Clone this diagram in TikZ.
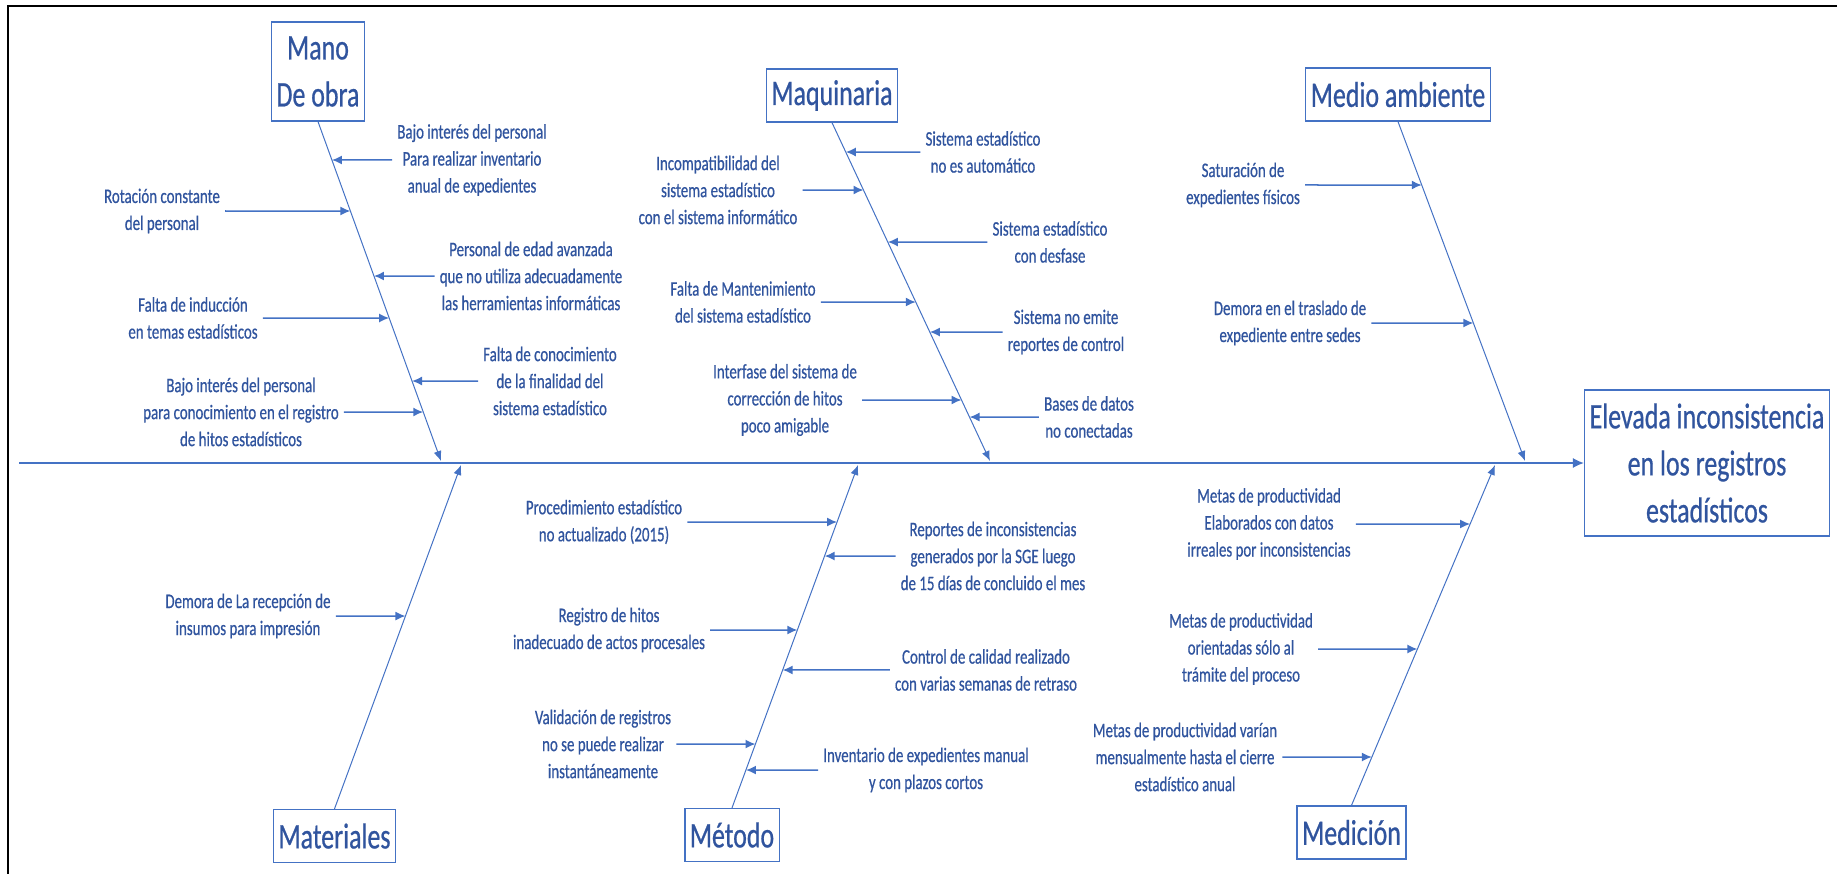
\documentclass[tikz,border=0pt]{standalone}
\usepackage{fontspec}
\setmainfont[FakeStretch=0.72, FakeBold=0.6]{Carlito}
\usetikzlibrary{arrows.meta}
\definecolor{bonecol}{RGB}{68,114,196}
\definecolor{labelcol}{RGB}{48,84,158}
\newcommand{\causesize}{\fontsize{20.7}{27}\selectfont}
\newcommand{\catsize}{\fontsize{36}{47}\selectfont}
\tikzset{
	cat/.style={draw=bonecol, line width=1.3pt, fill=white, text=labelcol, font=\catsize, align=center, inner xsep=5pt, inner ysep=2pt, minimum height=53pt},
	effect/.style={cat, minimum width=244pt, minimum height=146pt},
	cause/.style={text=labelcol, font=\causesize, align=center, inner xsep=5pt, inner ysep=1pt},
	bone/.style={draw=bonecol, line width=1pt, -{Latex[length=10pt, width=8pt]}},
	flow/.style={draw=bonecol, line width=1.5pt, -{Latex[length=10pt, width=9pt]}},
	spine/.style={draw=bonecol, line width=1.6pt, -{Latex[length=11pt, width=10pt]}},
	frame/.style={draw=black, line width=2.5pt}
}

\begin{document}
\begin{tikzpicture}[x=1pt, y=-1pt]
	\useasboundingbox (0,0) rectangle (1838,874);
	\draw[frame] (1837,6) -| (8,874);

	% effect and spine
	\node[effect] (head) at (1707,463) {Elevada inconsistencia\\en los registros\\estadísticos};
	\coordinate (tail) at (19,463);
	\draw[spine] (tail) -- (head);

	% categories
	\node[cat, minimum height=99pt] (mano) at (318,71.5) {Mano\\De obra};
	\node[cat] (maq) at (832,95.5) {Maquinaria};
	\node[cat] (amb) at (1398,94.5) {Medio ambiente};
	\node[cat] (mat) at (334.5,836) {Materiales};
	\node[cat] (met) at (732,835) {Método};
	\node[cat] (med) at (1351.5,832.5) {Medición};

	\coordinate (mtip) at (441,461);
	\coordinate (qtip) at (990,461);
	\coordinate (atip) at (1525,461);
	\coordinate (ttip) at (461,465);
	\coordinate (etip) at (858,465);
	\coordinate (dtip) at (1495,465);

	\draw[bone] (mano.south) -- (mtip);
	\draw[bone] (maq.south) -- (qtip);
	\draw[bone] (amb.south) -- (atip);
	\draw[bone] (mat.north) -- (ttip);
	\draw[bone] (met.north) -- (etip);
	\draw[bone] (med.north) -- (dtip);

	% mano de obra
	\node[cause] (m1) at (472,160) {Bajo interés del personal\\Para realizar inventario\\anual de expedientes};
	\node[cause] (m2) at (162,211) {Rotación constante\\del personal};
	\node[cause] (m3) at (531,276) {Personal de edad avanzada\\que no utiliza adecuadamente\\las herramientas informáticas};
	\node[cause] (m4) at (193,318) {Falta de inducción\\en temas estadísticos};
	\node[cause] (m5) at (550,381) {Falta de conocimiento\\de la finalidad del\\sistema estadístico};
	\node[cause] (m6) at (241,412) {Bajo interés del personal\\para conocimiento en el registro\\de hitos estadísticos};
	\draw[flow] (m1) -- (intersection of mano.south--mtip and m1.west--m1.east);
	\draw[flow] (m2) -- (intersection of mano.south--mtip and m2.west--m2.east);
	\draw[flow] (m3) -- (intersection of mano.south--mtip and m3.west--m3.east);
	\draw[flow] (m4) -- (intersection of mano.south--mtip and m4.west--m4.east);
	\draw[flow] (m5) -- (intersection of mano.south--mtip and m5.west--m5.east);
	\draw[flow] (m6) -- (intersection of mano.south--mtip and m6.west--m6.east);

	% maquinaria
	\node[cause] (q1) at (983,152) {Sistema estadístico\\no es automático};
	\node[cause] (q2) at (718,190) {Incompatibilidad del\\sistema estadístico\\con el sistema informático};
	\node[cause] (q3) at (1050,242) {Sistema estadístico\\con desfase};
	\node[cause] (q4) at (743,302) {Falta de Mantenimiento\\del sistema estadístico};
	\node[cause] (q5) at (1066,332) {Sistema no emite\\reportes de control};
	\node[cause] (q6) at (785,400) {Interfase del sistema de\\corrección de hitos\\poco amigable};
	\node[cause] (q7) at (1089,417) {Bases de datos\\no conectadas};
	\draw[flow] (q1) -- (intersection of maq.south--qtip and q1.west--q1.east);
	\draw[flow] (q2) -- (intersection of maq.south--qtip and q2.west--q2.east);
	\draw[flow] (q3) -- (intersection of maq.south--qtip and q3.west--q3.east);
	\draw[flow] (q4) -- (intersection of maq.south--qtip and q4.west--q4.east);
	\draw[flow] (q5) -- (intersection of maq.south--qtip and q5.west--q5.east);
	\draw[flow] (q6) -- (intersection of maq.south--qtip and q6.west--q6.east);
	\draw[flow] (q7) -- (intersection of maq.south--qtip and q7.west--q7.east);

	% medio ambiente
	\node[cause] (a1) at (1243,185) {Saturación de\\expedientes físicos};
	\node[cause] (a2) at (1290,323) {Demora en el traslado de\\expediente entre sedes};
	\draw[flow] (a1) -- (intersection of amb.south--atip and a1.west--a1.east);
	\draw[flow] (a2) -- (intersection of amb.south--atip and a2.west--a2.east);

	% materiales
	\node[cause] (t1) at (248,616) {Demora de La recepción de\\insumos para impresión};
	\draw[flow] (t1) -- (intersection of mat.north--ttip and t1.west--t1.east);

	% metodo
	\node[cause] (e1) at (604,522) {Procedimiento estadístico\\no actualizado (2015)};
	\node[cause] (e2) at (993,556) {Reportes de inconsistencias\\generados por la SGE luego\\de 15 días de concluido el mes};
	\node[cause] (e3) at (609,630) {Registro de hitos\\inadecuado de actos procesales};
	\node[cause] (e4) at (986,670) {Control de calidad realizado\\con varias semanas de retraso};
	\node[cause] (e5) at (603,744) {Validación de registros\\no se puede realizar\\instantáneamente};
	\node[cause] (e6) at (926,770) {Inventario de expedientes manual\\y con plazos cortos};
	\draw[flow] (e1) -- (intersection of met.north--etip and e1.west--e1.east);
	\draw[flow] (e2) -- (intersection of met.north--etip and e2.west--e2.east);
	\draw[flow] (e3) -- (intersection of met.north--etip and e3.west--e3.east);
	\draw[flow] (e4) -- (intersection of met.north--etip and e4.west--e4.east);
	\draw[flow] (e5) -- (intersection of met.north--etip and e5.west--e5.east);
	\draw[flow] (e6) -- (intersection of met.north--etip and e6.west--e6.east);

	% medicion
	\node[cause] (d1) at (1269,524) {Metas de productividad\\Elaborados con datos\\irreales por inconsistencias};
	\node[cause] (d2) at (1241,649) {Metas de productividad\\orientadas sólo al\\trámite del proceso};
	\node[cause] (d3) at (1185,757) {Metas de productividad varían\\mensualmente hasta el cierre\\estadístico anual};
	\draw[flow] (d1) -- (intersection of med.north--dtip and d1.west--d1.east);
	\draw[flow] (d2) -- (intersection of med.north--dtip and d2.west--d2.east);
	\draw[flow] (d3) -- (intersection of med.north--dtip and d3.west--d3.east);
\end{tikzpicture}
\end{document}
